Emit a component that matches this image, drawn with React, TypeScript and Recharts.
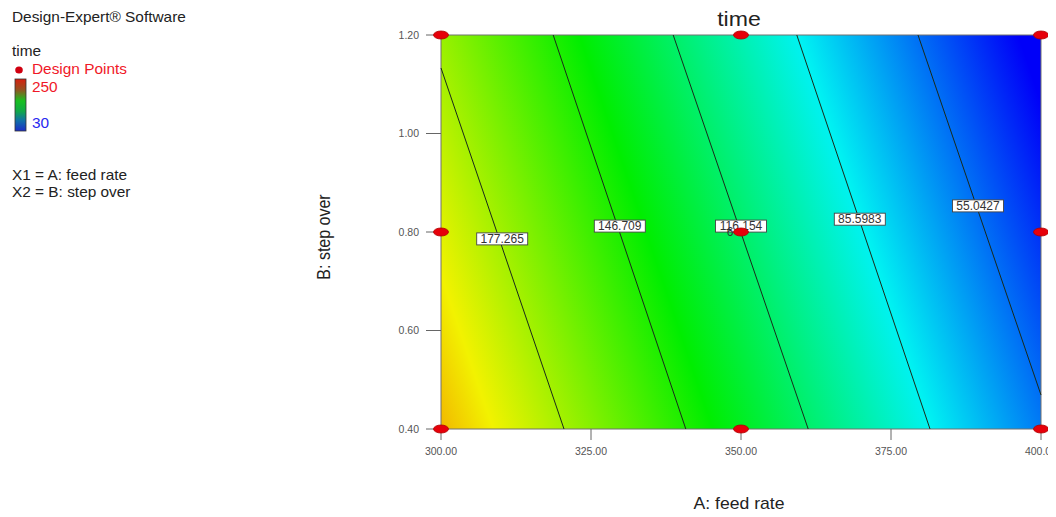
import React from 'react';
import { ScatterChart, XAxis, YAxis, Scatter, ReferenceArea, ReferenceLine } from 'recharts';

// axis ticks
const feedRateTicks = [300, 325, 350, 375, 400];
const stepOverTicks = [0.4, 0.6, 0.8, 1.0, 1.2];

// design points (runs > 1 get a count label)
const pointFeed = [300, 300, 300, 350, 350, 350, 400, 400, 400];
const pointStep = [0.4, 0.8, 1.2, 0.4, 0.8, 1.2, 0.4, 0.8, 1.2];
const pointRuns = [1, 1, 1, 1, 6, 1, 1, 1, 1];

// contour lines
const contourLevels = ['177.265', '146.709', '116.154', '85.5983', '55.0427'];
const contourStartFeed = [300, 318.7, 338.7, 359.3, 379.5];
const contourStartStep = [1.133, 1.2, 1.2, 1.2, 1.2];
const contourEndFeed = [320.5, 340.8, 361.2, 381.5, 400];
const contourEndStep = [0.4, 0.4, 0.4, 0.4, 0.469];
const labelFeed = [310.2, 329.8, 350.0, 369.8, 389.5];
const labelStep = [0.786, 0.812, 0.812, 0.826, 0.853];

// estimated response at plot corners: bottom-left, top-left, bottom-right
const cornerTime = [208.1, 174.6, 57.8];

// colour scale, high to low
const scaleMin = 30;
const scaleMax = 250;
const scaleTimes = [250, 195, 140, 85, 30];
const scaleColors = ['#f00000', '#f2f200', '#00ee00', '#00f2f2', '#0000f8'];

const font = 'Arial, "Liberation Sans", sans-serif';

const designPoints = pointFeed.map((f, i) => ({ feed: f, step: pointStep[i], runs: pointRuns[i] }));
const contourLabels = contourLevels.map((lv, i) => ({ feed: labelFeed[i], step: labelStep[i], level: lv }));

// gradient vector in bounding-box units (u right, v down)
const [tBL, tTL, tBR] = cornerTime;
const gu = tBR - tBL;
const gv = tBL - tTL;
const g2 = gu * gu + gv * gv;
const u1 = (scaleMax - tTL - 0.5 * gv) / gu;
const k = (scaleMax - scaleMin) / g2;
const grad = { x1: u1, y1: 0.5, x2: u1 - gu * k, y2: 0.5 - gv * k };

const LabelBox = (props: any) => {
    const { cx, cy, payload } = props;
    return (
        <g>
            <rect x={cx - 25.5} y={cy - 6} width={51} height={12} fill="#ffffff" stroke="#444" strokeWidth={0.9} />
            <text x={cx} y={cy + 4.3} textAnchor="middle" fontSize={12} fontFamily={font} fill="#333">{payload.level}</text>
        </g>
    );
};

const DesignPoint = (props: any) => {
    const { cx, cy, payload } = props;
    return (
        <g>
            {payload.runs > 1 && <text x={cx - 11} y={cy + 4} textAnchor="middle" fontSize={12} fontFamily={font} fill="#333">{payload.runs}</text>}
            <ellipse cx={cx} cy={cy} rx={7.5} ry={4} fill="#e6000a" stroke="#b00000" strokeWidth={0.8} />
        </g>
    );
};

const XTick = (props: any) => {
    const { x, y, payload } = props;
    return <text x={x} y={y} dy="0.71em" textAnchor="middle" fontSize={10.5} fontFamily={font} fill="#555">{payload.value.toFixed(2)}</text>;
};

const YTick = (props: any) => {
    const { x, y, payload } = props;
    return <text x={x} y={y} dy="0.355em" textAnchor="end" fontSize={10.5} fontFamily={font} fill="#555">{payload.value.toFixed(2)}</text>;
};

export default function App() {
    return (
        <div style={{ margin: -8, width: 1056, height: 517, position: 'relative', background: '#fff' }}>
            <style>{'.recharts-surface, .recharts-wrapper { overflow: visible !important; }'}</style>
            <svg width={0} height={0} style={{ position: 'absolute' }}>
                <defs>
                    <linearGradient id="timeFill" gradientUnits="objectBoundingBox" x1={grad.x1} y1={grad.y1} x2={grad.x2} y2={grad.y2}>
                        {scaleTimes.map((t, i) => (
                            <stop key={t} offset={(scaleMax - t) / (scaleMax - scaleMin)} stopColor={scaleColors[i]} />
                        ))}
                    </linearGradient>
                    <linearGradient id="barFill" x1="0" y1="0" x2="0" y2="1">
                        <stop offset="0" stopColor="#d82010" />
                        <stop offset="0.2" stopColor="#985020" />
                        <stop offset="0.42" stopColor="#18c020" />
                        <stop offset="0.62" stopColor="#10a848" />
                        <stop offset="0.8" stopColor="#1070a8" />
                        <stop offset="1" stopColor="#1c2cc8" />
                    </linearGradient>
                </defs>
            </svg>
            <ScatterChart width={1056} height={517} margin={{ top: 35, right: 15, bottom: 0, left: 0 }} style={{ overflow: 'visible' }}>
                <XAxis type="number" dataKey="feed" domain={[300, 400]} ticks={feedRateTicks} interval={0}
                    height={88} tickSize={11} tickMargin={8}
                    axisLine={false} tickLine={{ stroke: '#666' }} tick={<XTick />} />
                <YAxis type="number" dataKey="step" domain={[0.4, 1.2]} ticks={stepOverTicks} interval={0}
                    width={441} tickSize={15} tickMargin={7}
                    axisLine={false} tickLine={{ stroke: '#666' }} tick={<YTick />} />
                <ReferenceArea x1={300} x2={400} y1={0.4} y2={1.2} fill="url(#timeFill)" fillOpacity={1} stroke="#707070" strokeWidth={1} />
                {contourLevels.map((lv, i) => (
                    <ReferenceLine key={lv}
                        segment={[{ x: contourStartFeed[i], y: contourStartStep[i] }, { x: contourEndFeed[i], y: contourEndStep[i] }]}
                        stroke="#1a2a1a" strokeWidth={1} />
                ))}
                <Scatter data={contourLabels} shape={LabelBox} isAnimationActive={false} />
                <Scatter data={designPoints} shape={DesignPoint} isAnimationActive={false} />
            </ScatterChart>
            <svg width={1056} height={517} style={{ position: 'absolute', left: 0, top: 0, pointerEvents: 'none' }} fontFamily={font}>
                <text transform="translate(739,26) scale(1.1,1)" textAnchor="middle" fontSize={21} fill="#222">time</text>
                <text transform="translate(739,509) scale(1.1,1)" textAnchor="middle" fontSize={16} fill="#222">A: feed rate</text>
                <text transform="translate(330,237) rotate(-90) scale(1,1.1)" textAnchor="middle" fontSize={16} fill="#222">B: step over</text>
                <g fontSize={14}>
                    <text transform="translate(12,21.5) scale(1.1,1)" fill="#222">Design-Expert® Software</text>
                    <text transform="translate(12,56) scale(1.1,1)" fill="#222">time</text>
                    <ellipse cx={19} cy={70} rx={3.8} ry={3.6} fill="#d00010" />
                    <text transform="translate(32,74) scale(1.1,1)" fill="#f01828">Design Points</text>
                    <rect x={15} y={79} width={11} height={52} fill="url(#barFill)" stroke="#333" strokeWidth={0.8} />
                    <text transform="translate(32,92) scale(1.1,1)" fill="#f01828">250</text>
                    <text transform="translate(32,127.5) scale(1.1,1)" fill="#2828f0">30</text>
                    <text transform="translate(12,180) scale(1.1,1)" fill="#222">X1 = A: feed rate</text>
                    <text transform="translate(12,196.5) scale(1.1,1)" fill="#222">X2 = B: step over</text>
                </g>
            </svg>
        </div>
    );
}
